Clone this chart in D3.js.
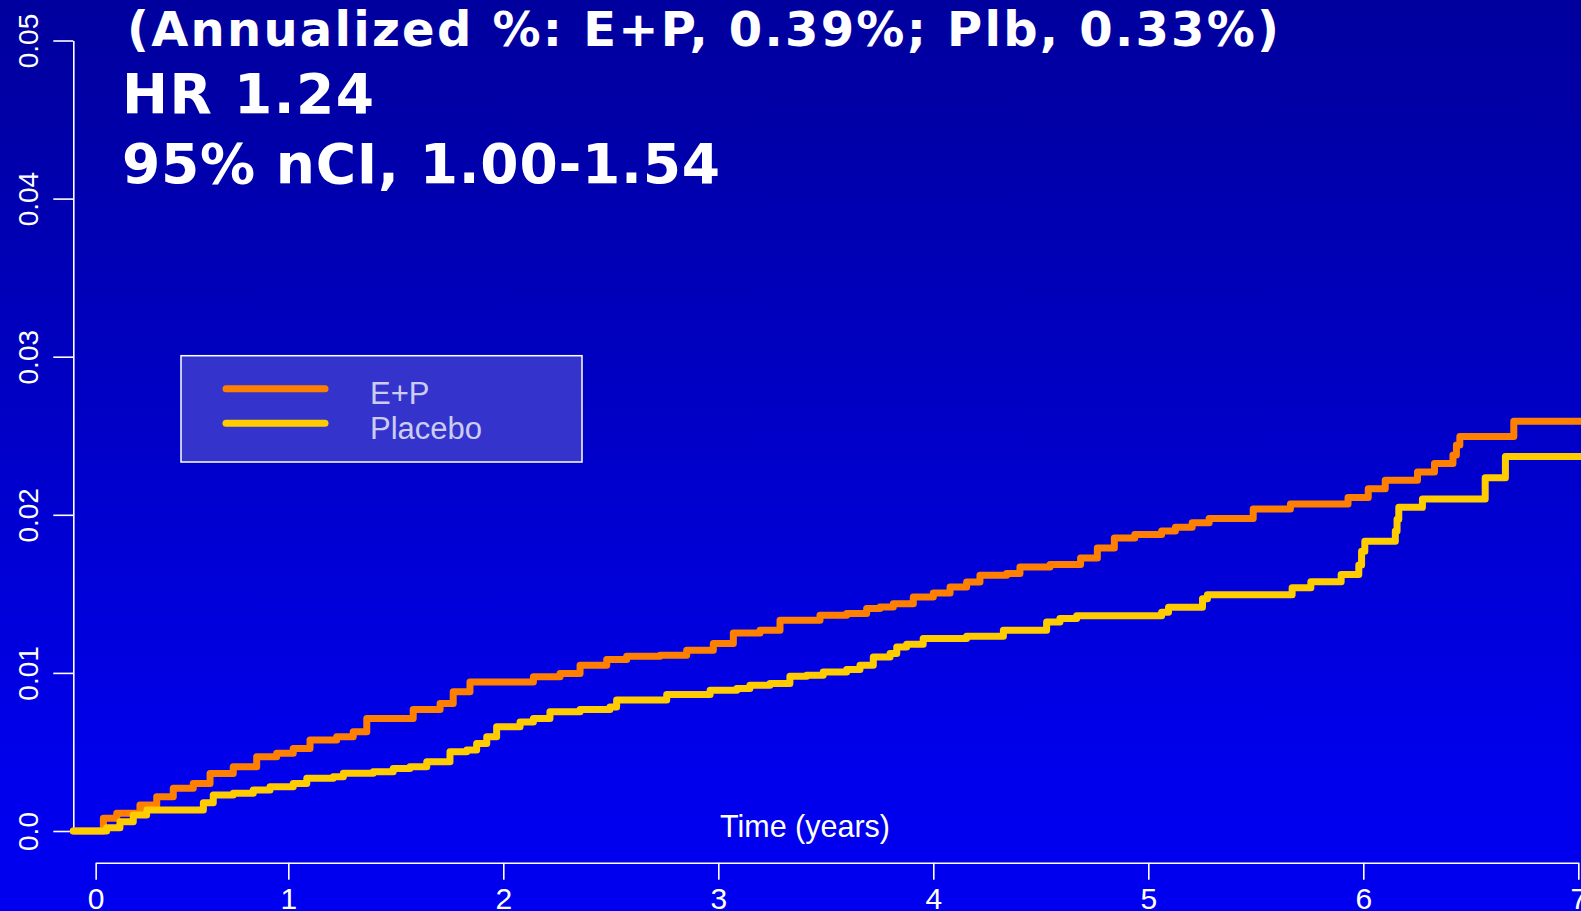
<!DOCTYPE html>
<html><head><meta charset="utf-8">
<script src="https://cdn.jsdelivr.net/npm/d3@7"></script>
<style>html,body{margin:0;padding:0;overflow:hidden;background:#0000c0}</style>
</head><body><svg id="c" width="1581" height="911"></svg>
<script>
// ---------- data ----------
const titleLines = ["(Annualized %: E+P, 0.39%; Plb, 0.33%)", "HR 1.24", "95% nCI, 1.00-1.54"];
const seriesNames = ["E+P", "Placebo"];
const seriesColors = ["#FF8000", "#FFCC00"];
const xLabel = "Time (years)";

const epTime = [0,0.140,0.202,0.310,0.388,0.465,0.558,0.636,0.744,0.853,0.946,1.023,1.101,1.225,1.302,1.365,1.581,1.706,1.767,1.845,2.140,2.264,2.357,2.481,2.574,2.729,2.853,2.977,3.070,3.194,3.287,3.473,3.597,3.690,3.752,3.814,3.907,4.000,4.078,4.155,4.217,4.341,4.403,4.543,4.685,4.763,4.842,4.937,5.062,5.126,5.204,5.283,5.488,5.661,5.929,6.023,6.102,6.252,6.331,6.417,6.433,6.449,6.700,7.05];
const epRisk = [0,0.00080,0.00112,0.00164,0.00217,0.00270,0.00301,0.00364,0.00406,0.00469,0.00491,0.00522,0.00575,0.00596,0.00627,0.00712,0.00769,0.00807,0.00880,0.00943,0.00975,0.00996,0.01049,0.01085,0.01106,0.01112,0.01143,0.01186,0.01253,0.01270,0.01333,0.01364,0.01375,0.01407,0.01417,0.01438,0.01480,0.01505,0.01543,0.01575,0.01617,0.01628,0.01670,0.01686,0.01726,0.01790,0.01854,0.01876,0.01897,0.01922,0.01950,0.01976,0.02036,0.02068,0.02110,0.02164,0.02218,0.02271,0.02325,0.02378,0.02442,0.02496,0.02592,0.02592];

const plbTime = [0,0.155,0.217,0.279,0.341,0.605,0.651,0.744,0.837,0.915,1.023,1.086,1.209,1.256,1.395,1.488,1.566,1.644,1.752,1.830,1.876,1.923,1.969,2.078,2.140,2.217,2.357,2.496,2.527,2.760,2.962,3.086,3.147,3.240,3.333,3.411,3.488,3.597,3.659,3.721,3.799,3.830,3.876,3.953,4.155,4.326,4.527,4.589,4.667,5.062,5.094,5.252,5.275,5.669,5.756,5.897,5.979,5.992,6.007,6.149,6.157,6.165,6.275,6.567,6.661,7.05];
const plbRisk = [0,0.00020,0.00059,0.00101,0.00133,0.00179,0.00227,0.00238,0.00259,0.00280,0.00301,0.00333,0.00343,0.00365,0.00375,0.00396,0.00406,0.00438,0.00501,0.00512,0.00554,0.00596,0.00659,0.00690,0.00712,0.00754,0.00769,0.00785,0.00828,0.00864,0.00891,0.00901,0.00922,0.00933,0.00979,0.00985,0.01006,0.01021,0.01049,0.01101,0.01123,0.01164,0.01181,0.01217,0.01232,0.01270,0.01322,0.01344,0.01362,0.01383,0.01416,0.01469,0.01495,0.01538,0.01576,0.01623,0.01683,0.01769,0.01833,0.01897,0.01972,0.02047,0.02100,0.02235,0.02368,0.02368];

const yTicks = [0, 0.01, 0.02, 0.03, 0.04, 0.05];
const yTickLabels = ["0.0", "0.01", "0.02", "0.03", "0.04", "0.05"];
const xTicks = [0, 1, 2, 3, 4, 5, 6, 7];
const xTickLabels = ["0", "1", "2", "3", "4", "5", "6", "7"];

// ---------- layout ----------
const W = 1581, H = 911;
const svg = d3.select("#c");
const defs = svg.append("defs");
const grad = defs.append("linearGradient").attr("id", "bg")
  .attr("gradientUnits", "userSpaceOnUse").attr("x1", 0).attr("y1", 0).attr("x2", 0).attr("y2", H);
grad.append("stop").attr("offset", "0%").attr("stop-color", "#00009E");
grad.append("stop").attr("offset", "12%").attr("stop-color", "#0000A6");
grad.append("stop").attr("offset", "85%").attr("stop-color", "#0000EC");
grad.append("stop").attr("offset", "100%").attr("stop-color", "#0000F0");
svg.append("rect").attr("width", W).attr("height", H).attr("fill", "url(#bg)");

const x = d3.scaleLinear().domain([0, 7]).range([73.3, 1578.3]);
const y = d3.scaleLinear().domain([0, 0.05]).range([831, 40.5]);
const xAxisScale = d3.scaleLinear().domain([0, 1, 7]).range([x(0.104), x(1), x(7)]);

const axisFont = "'Liberation Sans', Arial, sans-serif";

// y axis
const gy = svg.append("g").attr("transform", `translate(${x(0)},0)`)
  .call(d3.axisLeft(y).tickValues(yTicks).tickSize(20).tickSizeOuter(0)
    .tickFormat((d, i) => yTickLabels[i]));
gy.selectAll("path,line").attr("stroke", "#fff").attr("stroke-width", 1.6);
gy.selectAll("text").attr("x", null).attr("dy", null)
  .attr("transform", "translate(-35.5,0) rotate(-90)")
  .attr("text-anchor", "middle").attr("fill", "#fff")
  .style("font-family", axisFont).style("font-size", "28px");

// x axis
const gx = svg.append("g").attr("transform", `translate(0,862.7)`)
  .call(d3.axisBottom(xAxisScale).tickValues(xTicks).tickSize(17).tickSizeOuter(0)
    .tickFormat((d, i) => xTickLabels[i]));
gx.selectAll("path,line").attr("stroke", "#fff").attr("stroke-width", 1.6);
gx.selectAll("text").attr("y", 46).attr("dy", null).attr("fill", "#fff")
  .style("font-family", axisFont).style("font-size", "30px");

svg.append("text").attr("x", 805).attr("y", 836.7).attr("text-anchor", "middle")
  .attr("fill", "#fff").style("font-family", axisFont).style("font-size", "30.5px").text(xLabel);

// curves
const line = d3.line().x(d => x(d[0])).y(d => y(d[1])).curve(d3.curveStepAfter);
const series = [
  d3.zip(epTime, epRisk),
  d3.zip(plbTime, plbRisk)
];
series.forEach((s, i) => {
  svg.append("path").datum(s).attr("d", line).attr("fill", "none")
    .attr("stroke", seriesColors[i]).attr("stroke-width", 7)
    .attr("stroke-linejoin", "round").attr("stroke-linecap", "round");
});

// legend
const lg = svg.append("g");
lg.append("rect").attr("x", 181).attr("y", 355.7).attr("width", 401).attr("height", 106.3)
  .attr("fill", "#3434CC").attr("stroke", "#fff").attr("stroke-width", 1.5);
seriesNames.forEach((n, i) => {
  const yy = 388.7 + i * 34.6;
  lg.append("line").attr("x1", 226).attr("x2", 325).attr("y1", yy).attr("y2", yy)
    .attr("stroke", seriesColors[i]).attr("stroke-width", 7).attr("stroke-linecap", "round");
  lg.append("text").attr("x", 370).attr("y", 404 + i * 35).attr("fill", "#CCCCF2")
    .style("font-family", axisFont).style("font-size", "31px").text(n);
});

// title
const titleFont = "'DejaVu Sans', Verdana, sans-serif";
const tspec = [
  {x: 127, y: 46, size: 48, len: 1152},
  {x: 122, y: 113, size: 55, len: 252},
  {x: 122, y: 183, size: 55, len: 598}
];
titleLines.forEach((t, i) => {
  svg.append("text").attr("x", tspec[i].x).attr("y", tspec[i].y)
    .attr("fill", "#fff").attr("font-weight", "bold")
    .attr("textLength", tspec[i].len).attr("lengthAdjust", "spacing")
    .style("font-family", titleFont).style("font-size", tspec[i].size + "px").text(t);
});
</script></body></html>
